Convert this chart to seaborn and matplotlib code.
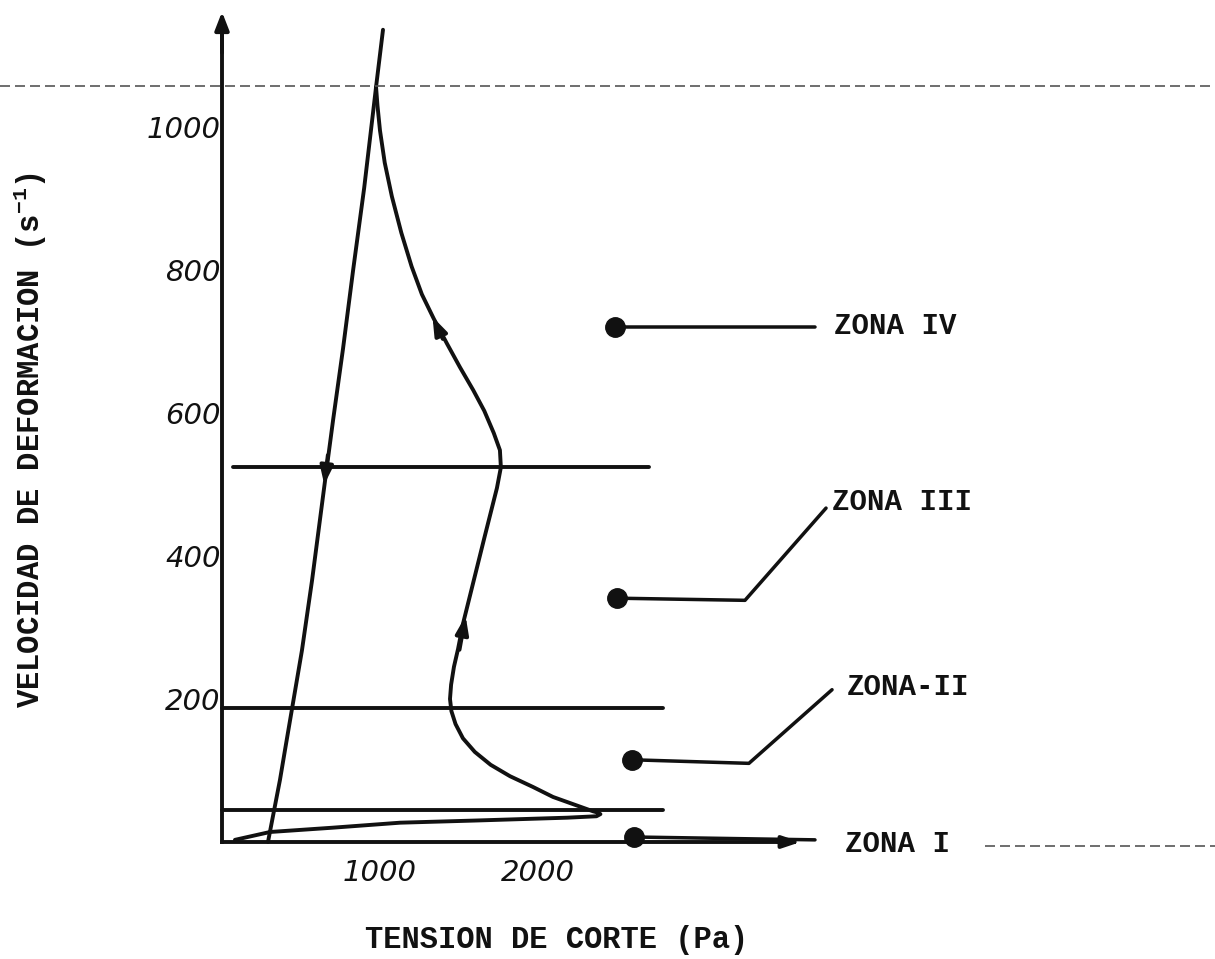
import numpy as np
import pandas as pd
import matplotlib
matplotlib.use("Agg")
import matplotlib.pyplot as plt
import seaborn as sns

# ---- data ----
# descending branch (arrow pointing down)
down_x = [291, 367, 399, 506, 570, 652, 703, 766, 830, 900, 975, 1019]
down_y = [0, 87, 129, 268, 366, 505, 590, 690, 800, 915, 1056, 1136]

# ascending branch: out along the axis, back at the tip, then up to the peak
up_x = [82, 304, 700, 1127, 1600, 2184, 2370, 2395, 2380, 2348, 2234, 2095, 1968, 1823,
        1700, 1600, 1525, 1478, 1452, 1443, 1450, 1468, 1494, 1525, 1570, 1615, 1660,
        1700, 1740, 1765, 1759, 1720, 1660, 1590, 1506, 1424, 1340, 1265, 1200, 1135,
        1075, 1030, 1000, 984, 975]
up_y = [3, 14, 20, 27, 30, 34, 36, 39, 41, 43, 52, 63, 77, 92,
        108, 126, 145, 165, 183, 200, 220, 245, 270, 305, 345, 385, 425,
        460, 495, 524, 548, 572, 603, 632, 664, 697, 732, 766, 805, 852,
        903, 950, 995, 1030, 1056]

# zone boundary lines (shear rate)
bound_y = [45, 187, 524]
bound_x0 = [0, 0, 70]
bound_x1 = [2790, 2790, 2700]

# zone labels with their leader lines
zone_names = ["ZONA I", "ZONA-II", "ZONA III", "ZONA IV"]
zone_dot_x = [2608, 2595, 2500, 2487]
zone_dot_y = [7, 115, 341, 720]
zone_knee_x = [3753, 3335, 3310, 3753]
zone_knee_y = [3, 110, 338, 720]
zone_end_x = [3753, 3861, 3823, 3753]
zone_end_y = [3, 213, 467, 720]
zone_text_x = [3943, 3956, 3861, 3873]
zone_text_y = [-3, 217, 476, 722]

x_ticks = [1000, 2000]
y_ticks = [200, 400, 600, 800, 1000]

# ---- figure ----
sns.set_theme(style="white")
plt.rcParams["font.family"] = ["DejaVu Sans"]
plt.rcParams["mathtext.fontset"] = "custom"
plt.rcParams["mathtext.rm"] = "Liberation Mono:bold"
plt.rcParams["mathtext.it"] = "Liberation Mono:bold"
plt.rcParams["mathtext.bf"] = "Liberation Mono:bold"

INK = "#111111"
LW = 2.8

fig = plt.figure(figsize=(12.15, 9.59), dpi=100)
ax = fig.add_axes([0, 0, 1, 1])
ax.set_facecolor("white")
ax.set_xlim(-222 / 0.158, (1215 - 222) / 0.158)
ax.set_ylim(-(959 - 842) / 0.715, 842 / 0.715)

# curves
sns.lineplot(x=down_x, y=down_y, sort=False, estimator=None, ax=ax, color=INK, lw=LW)
sns.lineplot(x=up_x, y=up_y, sort=False, estimator=None, ax=ax, color=INK, lw=LW)

# zone boundary lines
for y, x0, x1 in zip(bound_y, bound_x0, bound_x1):
    sns.lineplot(x=[x0, x1], y=[y, y], ax=ax, color=INK, lw=LW)

# arrows on the curves
arrow_kw = dict(arrowstyle="-|>,head_length=0.9,head_width=0.32", color=INK, lw=LW)
ax.annotate("", xy=(645, 496), xytext=(672, 545), arrowprops=arrow_kw)
ax.annotate("", xy=(1545, 320), xytext=(1500, 265), arrowprops=arrow_kw)
ax.annotate("", xy=(1325, 738), xytext=(1405, 700), arrowprops=arrow_kw)

# zone leaders
for i, name in enumerate(zone_names):
    ax.plot([zone_dot_x[i], zone_knee_x[i], zone_end_x[i]],
            [zone_dot_y[i], zone_knee_y[i], zone_end_y[i]], color=INK, lw=LW * 0.9)
    ax.plot(zone_dot_x[i], zone_dot_y[i], "o", color=INK, ms=14)
    ax.text(zone_text_x[i], zone_text_y[i], name, family="Liberation Mono",
            fontweight="bold", fontsize=21, color=INK, va="center", ha="left")

# axes as spines
for s in ["top", "right"]:
    ax.spines[s].set_visible(False)
ax.spines["left"].set_position(("data", 0))
ax.spines["bottom"].set_position(("data", 0))
ax.spines["left"].set_bounds(0, 1140)
ax.spines["bottom"].set_bounds(0, 3620)
for s in ["left", "bottom"]:
    ax.spines[s].set_color(INK)
    ax.spines[s].set_linewidth(LW)
ax.annotate("", xy=(0, 1165), xytext=(0, 1100),
            arrowprops=dict(arrowstyle="-|>,head_length=0.9,head_width=0.35", color=INK, lw=LW))
ax.annotate("", xy=(3680, 0), xytext=(3500, 0),
            arrowprops=dict(arrowstyle="-|>,head_length=0.9,head_width=0.3", color=INK, lw=LW))

ax.set_xticks(x_ticks)
ax.set_yticks(y_ticks)
ax.set_xticklabels([str(t) for t in x_ticks], fontstyle="italic", fontsize=21, color=INK)
ax.set_yticklabels([str(t) for t in y_ticks], fontstyle="italic", fontsize=21, color=INK)
ax.tick_params(axis="both", direction="in", length=8, width=2.2, color=INK)
ax.tick_params(axis="y", pad=1)
ax.tick_params(axis="x", pad=12)

ax.set_xlabel("TENSION DE CORTE (Pa)", family="Liberation Mono", fontweight="bold",
              fontsize=22, color=INK)
ax.xaxis.set_label_coords(557 / 1215, 1 - 925 / 959)
ax.set_ylabel("VELOCIDAD DE DEFORMACION (s$^{-1}$)", family="Liberation Mono",
              fontweight="bold", fontsize=22, color=INK, va="center")
ax.yaxis.set_label_coords(30 / 1215, 1 - 440 / 959)

# faint scan seams
seam = dict(transform=ax.transAxes, color="#555555", lw=1.2, ls=(0, (6, 3)))
ax.plot([0, 1], [1 - 86 / 959, 1 - 86 / 959], **seam)
ax.plot([985 / 1215, 1], [1 - 846 / 959, 1 - 846 / 959], **seam)

fig.savefig("out.png", dpi=100, facecolor="white")
